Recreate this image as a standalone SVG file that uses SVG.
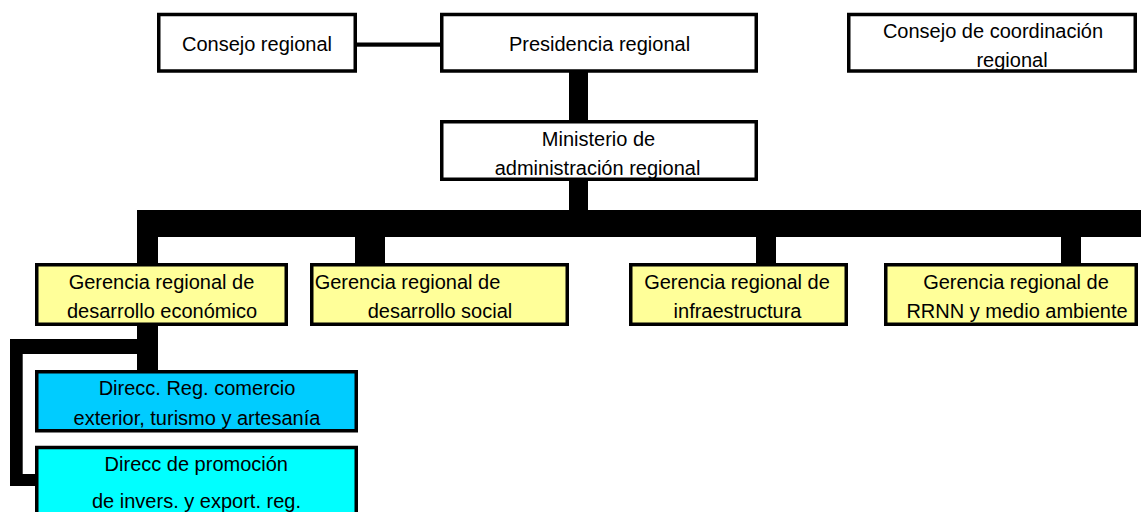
<svg xmlns="http://www.w3.org/2000/svg" width="1141" height="512" viewBox="0 0 1141 512">
<style>
.box{stroke:#000;stroke-width:3.5}
.w{fill:#fff}
.y{fill:#ffff99}
.b{fill:#00ccff}
.c{fill:#00ffff}
text{font-family:"Liberation Sans",Arial,sans-serif;font-size:20px;fill:#000;text-anchor:middle}
.bar{fill:#000}
</style>
<rect width="1141" height="512" fill="#fff"/>
<g id="connectors">
<rect class="bar" x="357" y="42.5" width="83" height="4.2"/>
<rect class="bar" x="569" y="72" width="19" height="48"/>
<rect class="bar" x="569" y="180" width="19" height="31"/>
<rect class="bar" x="137" y="210" width="1004" height="27"/>
<rect class="bar" x="137" y="236" width="21" height="28"/>
<rect class="bar" x="355" y="236" width="30" height="28"/>
<rect class="bar" x="756" y="236" width="20" height="28"/>
<rect class="bar" x="1061" y="236" width="20" height="28"/>
<rect class="bar" x="137" y="325" width="21" height="46"/>
<rect class="bar" x="10" y="339" width="128" height="15"/>
<rect class="bar" x="10" y="339" width="12.7" height="147"/>
<rect class="bar" x="10" y="474" width="26" height="12"/>
</g>
<g id="consejo-regional">
<rect class="box w" x="158.75" y="14.5" width="196.5" height="56.5"/>
<text x="257" y="50.5">Consejo regional</text>
</g>
<g id="presidencia-regional">
<rect class="box w" x="441.75" y="14.5" width="314.5" height="56.5"/>
<text x="599.5" y="50.5">Presidencia regional</text>
</g>
<g id="consejo-coordinacion">
<rect class="box w" x="848.75" y="14.5" width="286.5" height="56.5"/>
<text x="993" y="37.5">Consejo de coordinación</text>
<text x="1012" y="67">regional</text>
</g>
<g id="ministerio">
<rect class="box w" x="441.75" y="121.75" width="314.5" height="57.5"/>
<text x="598.5" y="145.5">Ministerio de</text>
<text x="597.5" y="175">administración regional</text>
</g>
<g id="gerencia-economico">
<rect class="box y" x="36.75" y="264.75" width="249.5" height="59.5"/>
<text x="161.5" y="289.3">Gerencia regional de</text>
<text x="162" y="318.3">desarrollo económico</text>
</g>
<g id="gerencia-social">
<rect class="box y" x="311.75" y="264.75" width="255.5" height="59.5"/>
<text x="407.5" y="289.3">Gerencia regional de</text>
<text x="440" y="318.3">desarrollo social</text>
</g>
<g id="gerencia-infraestructura">
<rect class="box y" x="630.75" y="264.75" width="215.5" height="59.5"/>
<text x="737" y="289.3">Gerencia regional de</text>
<text x="737.5" y="318.3">infraestructura</text>
</g>
<g id="gerencia-rrnn">
<rect class="box y" x="885.75" y="264.75" width="250.5" height="59.5"/>
<text x="1016" y="289.3">Gerencia regional de</text>
<text x="1017" y="318.3">RRNN y medio ambiente</text>
</g>
<g id="direcc-comercio">
<rect class="box b" x="36.75" y="371.75" width="319.5" height="59"/>
<text x="197" y="395">Direcc. Reg. comercio</text>
<text x="197" y="425">exterior, turismo y artesanía</text>
</g>
<g id="direcc-promocion">
<rect class="box c" x="36.75" y="447.5" width="319.5" height="80"/>
<text x="196.3" y="470.7">Direcc de promoción</text>
<text x="196.5" y="507.7">de invers. y export. reg.</text>
</g>
</svg>
